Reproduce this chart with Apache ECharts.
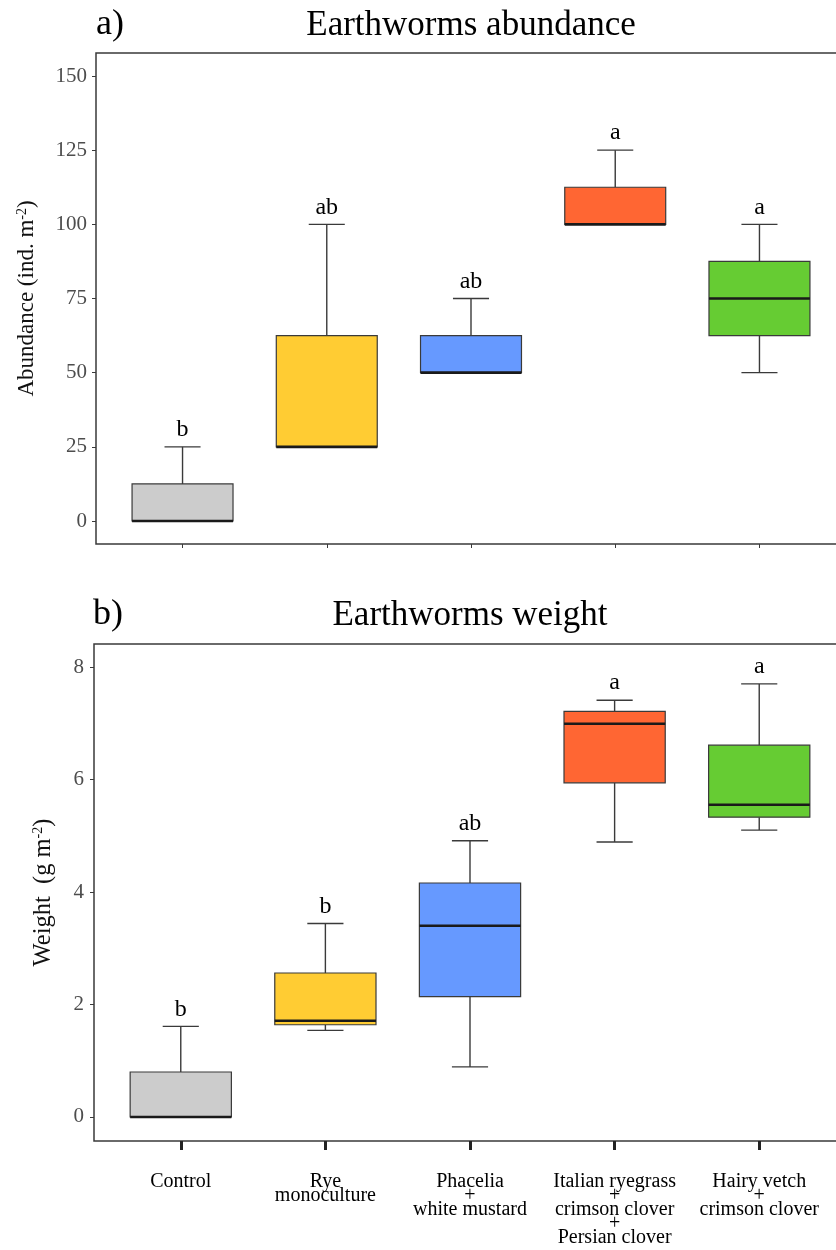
<!DOCTYPE html>
<html>
<head>
<meta charset="utf-8">
<style>
  html, body { margin: 0; padding: 0; background: #ffffff; }
  #chart { width: 836px; height: 1250px; }
</style>
<script src="https://cdn.jsdelivr.net/npm/echarts@6/dist/echarts.min.js"></script>
</head>
<body>
<div id="chart"></div>
<script>
// ---- Data ----
const categories = ['Control', 'Rye\nmonoculture', 'Phacelia\n+\nwhite mustard',
  'Italian ryegrass\n+\ncrimson clover\n+\nPersian clover', 'Hairy vetch\n+\ncrimson clover'];
const boxColors = ['#cccccc', '#ffcc33', '#6699ff', '#ff6633', '#66cc33'];

// a) Earthworms abundance (ind. m-2)
const abMin = [0, 25, 50, 100, 50];
const abQ1  = [0, 25, 50, 100, 62.5];
const abMed = [0, 25, 50, 100, 75];
const abQ3  = [12.5, 62.5, 62.5, 112.5, 87.5];
const abMax = [25, 100, 75, 125, 100];
const abLetters = ['b', 'ab', 'ab', 'a', 'a'];
const abTicks = [0, 25, 50, 75, 100, 125, 150];

// b) Earthworms weight (g m-2)
const wMin = [0, 1.54, 0.89, 4.89, 5.10];
const wQ1  = [0, 1.64, 2.14, 5.94, 5.33];
const wMed = [0, 1.71, 3.40, 6.99, 5.55];
const wQ3  = [0.80, 2.56, 4.16, 7.21, 6.61];
const wMax = [1.61, 3.44, 4.91, 7.41, 7.70];
const wLetters = ['b', 'b', 'ab', 'a', 'a'];
const wTicks = [0, 2, 4, 6, 8];

const xPositions = [1, 2, 3, 4, 5];

// ---- Build ----
const FONT = '"Liberation Serif", "Times New Roman", serif';

function buildData(mn, q1, md, q3, mx) {
  return xPositions.map((x, i) => [x, mn[i], q1[i], md[i], q3[i], mx[i], i]);
}

function makeRender(letters) {
  return function (params, api) {
    const x = api.value(0);
    const mn = api.value(1), q1 = api.value(2), md = api.value(3), q3 = api.value(4), mx = api.value(5);
    const idx = api.value(6);
    const cx = api.coord([x, md])[0];
    const halfBox = api.size([0.35, 0])[0];
    const halfCap = api.size([0.125, 0])[0];
    const yMin = api.coord([x, mn])[1];
    const yQ1 = api.coord([x, q1])[1];
    const yMed = api.coord([x, md])[1];
    const yQ3 = api.coord([x, q3])[1];
    const yMax = api.coord([x, mx])[1];
    const lineStyle = { stroke: '#3a3a3a', lineWidth: 1.4 };
    return {
      type: 'group',
      children: [
        { type: 'line', shape: { x1: cx, y1: yQ3, x2: cx, y2: yMax }, style: lineStyle },
        { type: 'line', shape: { x1: cx, y1: yQ1, x2: cx, y2: yMin }, style: lineStyle },
        { type: 'line', shape: { x1: cx - halfCap, y1: yMax, x2: cx + halfCap, y2: yMax }, style: lineStyle },
        { type: 'line', shape: { x1: cx - halfCap, y1: yMin, x2: cx + halfCap, y2: yMin }, style: lineStyle },
        { type: 'rect', shape: { x: cx - halfBox, y: yQ3, width: halfBox * 2, height: yQ1 - yQ3 },
          style: { fill: boxColors[idx], stroke: '#3a3a3a', lineWidth: 1.2 } },
        { type: 'line', shape: { x1: cx - halfBox, y1: yMed, x2: cx + halfBox, y2: yMed },
          style: { stroke: '#1a1a1a', lineWidth: 2.6 } },
        { type: 'text', x: cx, y: yMax - 17,
          style: { text: letters[idx], font: '24px ' + FONT, fill: '#000', align: 'center', verticalAlign: 'middle' } }
      ]
    };
  };
}

const yLabelStyle = { color: '#4d4d4d', fontFamily: FONT, fontSize: 21 };
function nameStyle(size) {
  return {
    fontFamily: FONT, fontSize: size, color: '#111',
    rich: { s: { fontFamily: FONT, fontSize: 14, color: '#111', verticalAlign: 'top', padding: [0, 0, 10, 0] } }
  };
}

const option = {
  animation: false,
  backgroundColor: '#ffffff',
  grid: [
    { left: 96, width: 750, top: 53, height: 491, outerBoundsMode: 'none', containLabel: false,
      show: true, borderColor: '#3a3a3a', borderWidth: 1.5 },
    { left: 94, width: 752, top: 644, height: 497, outerBoundsMode: 'none', containLabel: false,
      show: true, borderColor: '#3a3a3a', borderWidth: 1.5 }
  ],
  graphic: [
    { type: 'text', x: 96, y: 25, style: { text: 'a)', font: '36px ' + FONT, fill: '#000', align: 'left', verticalAlign: 'middle' } },
    { type: 'text', x: 471, y: 26, style: { text: 'Earthworms abundance', font: '35px ' + FONT, fill: '#000', align: 'center', verticalAlign: 'middle' } },
    { type: 'text', x: 93, y: 615, style: { text: 'b)', font: '36px ' + FONT, fill: '#000', align: 'left', verticalAlign: 'middle' } },
    { type: 'text', x: 470, y: 616, style: { text: 'Earthworms weight', font: '35px ' + FONT, fill: '#000', align: 'center', verticalAlign: 'middle' } }
  ],
  xAxis: [
    { gridIndex: 0, type: 'value', min: 0.4, max: 5.6, position: 'bottom', splitLine: { show: false },
      axisLine: { show: false, onZero: false },
      axisTick: { show: true, customValues: xPositions, length: 4, lineStyle: { color: '#3a3a3a', width: 1 } },
      axisLabel: { show: false } },
    { gridIndex: 1, type: 'value', min: 0.4, max: 5.6, position: 'bottom', splitLine: { show: false },
      axisLine: { show: false, onZero: false },
      axisTick: { show: true, customValues: xPositions, length: 9, lineStyle: { color: '#222', width: 3 } },
      axisLabel: { show: true, customValues: xPositions, margin: 34, color: '#000',
        fontFamily: FONT, fontSize: 20, lineHeight: 14,
        formatter: v => categories[Math.round(v) - 1] } }
  ],
  yAxis: [
    { gridIndex: 0, type: 'value', min: -7.75, max: 157.75, position: 'left', splitLine: { show: false },
      axisLine: { show: false, onZero: false },
      axisTick: { show: true, customValues: abTicks, length: 4, lineStyle: { color: '#3a3a3a', width: 1 } },
      axisLabel: Object.assign({ customValues: abTicks, margin: 9 }, yLabelStyle),
      name: 'Abundance (ind. m{s|-2})', nameLocation: 'middle', nameGap: 57, nameRotate: 90,
      nameTextStyle: nameStyle(23) },
    { gridIndex: 1, type: 'value', min: -0.427, max: 8.409, position: 'left', splitLine: { show: false },
      axisLine: { show: false, onZero: false },
      axisTick: { show: true, customValues: wTicks, length: 4, lineStyle: { color: '#3a3a3a', width: 1 } },
      axisLabel: Object.assign({ customValues: wTicks, margin: 10 }, yLabelStyle),
      name: 'Weight  (g m{s|-2})', nameLocation: 'middle', nameGap: 38, nameRotate: 90,
      nameTextStyle: nameStyle(24.5) }
  ],
  series: [
    { type: 'custom', xAxisIndex: 0, yAxisIndex: 0, renderItem: makeRender(abLetters),
      encode: { x: 0, y: [1, 5] }, data: buildData(abMin, abQ1, abMed, abQ3, abMax), clip: false },
    { type: 'custom', xAxisIndex: 1, yAxisIndex: 1, renderItem: makeRender(wLetters),
      encode: { x: 0, y: [1, 5] }, data: buildData(wMin, wQ1, wMed, wQ3, wMax), clip: false }
  ]
};

const chart = echarts.init(document.getElementById('chart'), null, { renderer: 'canvas' });
chart.setOption(option);
</script>
</body>
</html>
